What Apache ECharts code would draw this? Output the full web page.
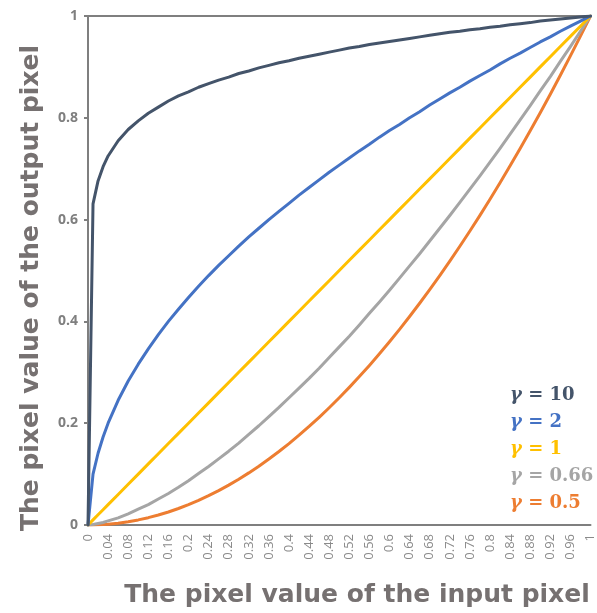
<!DOCTYPE html>
<html>
<head>
<meta charset="utf-8">
<script src="https://cdn.jsdelivr.net/npm/echarts@6/dist/echarts.min.js"></script>
<style>
  html, body { margin: 0; padding: 0; background: #fff; }
  #chart { width: 597px; height: 613px; }
</style>
</head>
<body>
<div id="chart"></div>
<script>
// Input pixel value (x) shared by every curve
const inputValues = [0, 0.01, 0.02, 0.03, 0.04, 0.06, 0.08, 0.10, 0.12, 0.14, 0.16, 0.18, 0.20, 0.22, 0.24, 0.26, 0.28, 0.30, 0.32, 0.34, 0.36, 0.38, 0.40, 0.42, 0.44, 0.46, 0.48, 0.50, 0.52, 0.54, 0.56, 0.58, 0.60, 0.62, 0.64, 0.66, 0.68, 0.70, 0.72, 0.74, 0.76, 0.78, 0.80, 0.82, 0.84, 0.86, 0.88, 0.90, 0.92, 0.94, 0.96, 0.98, 1];

// Output pixel value for each gamma
const gamma10 = [0, 0.631, 0.676, 0.704, 0.725, 0.755, 0.777, 0.794, 0.809, 0.821, 0.833, 0.843, 0.851, 0.860, 0.867, 0.874, 0.880, 0.887, 0.892, 0.898, 0.903, 0.908, 0.912, 0.917, 0.921, 0.925, 0.929, 0.933, 0.937, 0.940, 0.944, 0.947, 0.950, 0.953, 0.956, 0.959, 0.962, 0.965, 0.968, 0.970, 0.973, 0.975, 0.978, 0.980, 0.983, 0.985, 0.987, 0.990, 0.992, 0.994, 0.996, 0.998, 1];
const gamma2 = [0, 0.100, 0.141, 0.173, 0.200, 0.245, 0.283, 0.316, 0.346, 0.374, 0.400, 0.424, 0.447, 0.469, 0.490, 0.510, 0.529, 0.548, 0.566, 0.583, 0.600, 0.616, 0.632, 0.648, 0.663, 0.678, 0.693, 0.707, 0.721, 0.735, 0.748, 0.762, 0.775, 0.787, 0.800, 0.812, 0.825, 0.837, 0.849, 0.860, 0.872, 0.883, 0.894, 0.906, 0.917, 0.927, 0.938, 0.949, 0.959, 0.970, 0.980, 0.990, 1];
const gamma1 = [0, 0.01, 0.02, 0.03, 0.04, 0.06, 0.08, 0.10, 0.12, 0.14, 0.16, 0.18, 0.20, 0.22, 0.24, 0.26, 0.28, 0.30, 0.32, 0.34, 0.36, 0.38, 0.40, 0.42, 0.44, 0.46, 0.48, 0.50, 0.52, 0.54, 0.56, 0.58, 0.60, 0.62, 0.64, 0.66, 0.68, 0.70, 0.72, 0.74, 0.76, 0.78, 0.80, 0.82, 0.84, 0.86, 0.88, 0.90, 0.92, 0.94, 0.96, 0.98, 1];
const gamma066 = [0, 0.001, 0.003, 0.005, 0.008, 0.014, 0.022, 0.031, 0.040, 0.051, 0.062, 0.074, 0.087, 0.101, 0.115, 0.130, 0.145, 0.161, 0.178, 0.195, 0.213, 0.231, 0.250, 0.269, 0.288, 0.308, 0.329, 0.350, 0.371, 0.393, 0.416, 0.438, 0.461, 0.485, 0.509, 0.533, 0.558, 0.583, 0.608, 0.634, 0.660, 0.686, 0.713, 0.740, 0.768, 0.796, 0.824, 0.853, 0.881, 0.911, 0.940, 0.970, 1];
const gamma05 = [0, 0.0001, 0.0004, 0.0009, 0.0016, 0.0036, 0.0064, 0.010, 0.0144, 0.0196, 0.0256, 0.0324, 0.040, 0.0484, 0.0576, 0.0676, 0.0784, 0.090, 0.1024, 0.1156, 0.1296, 0.1444, 0.160, 0.1764, 0.1936, 0.2116, 0.2304, 0.250, 0.2704, 0.2916, 0.3136, 0.3364, 0.360, 0.3844, 0.4096, 0.4356, 0.4624, 0.490, 0.5184, 0.5476, 0.5776, 0.6084, 0.640, 0.6724, 0.7056, 0.7396, 0.7744, 0.810, 0.8464, 0.8836, 0.9216, 0.9604, 1];

const seriesNames = ['γ = 10', 'γ = 2', 'γ = 1', 'γ = 0.66', 'γ = 0.5'];
const seriesValues = [gamma10, gamma2, gamma1, gamma066, gamma05];
const seriesColors = ['#44546a', '#4472c4', '#ffc000', '#a5a5a5', '#ed7d31'];

const axisGray = '#7f7f7f';
const titleGray = '#767171';
const labelFont = '"Open Sans", "DejaVu Sans", sans-serif';
const titleFont = '"DejaVu Sans", sans-serif';

const chart = echarts.init(document.getElementById('chart'), null, { renderer: 'canvas' });

const series = seriesNames.map((name, i) => ({
  name: name,
  type: 'line',
  data: inputValues.map((x, j) => [x, seriesValues[i][j]]),
  showSymbol: false,
  lineStyle: { color: seriesColors[i], width: 3, cap: 'round', join: 'round' },
  itemStyle: { color: seriesColors[i] },
  z: 10 - i
}));

chart.setOption({
  animation: false,
  backgroundColor: '#fff',
  grid: { left: 88, right: 1, top: 16, bottom: 88, containLabel: false },
  legend: {
    orient: 'vertical',
    left: 500,
    top: 381,
    icon: 'none',
    itemWidth: 0,
    itemHeight: 14,
    itemGap: 8,
    selectedMode: false,
    formatter: name => '{g|γ}' + name.slice(1),
    textStyle: {
      fontSize: 18,
      fontWeight: 'bold',
      fontFamily: '"DejaVu Serif", serif',
      lineHeight: 19,
      rich: {
        g: { fontStyle: 'italic', fontFamily: '"DejaVu Serif", serif', fontSize: 18, fontWeight: 'bold' }
      }
    },
    data: seriesNames.map((n, i) => ({ name: n, textStyle: { color: seriesColors[i] } }))
  },
  xAxis: [
    {
      type: 'value',
      min: 0,
      max: 1,
      interval: 0.04,
      axisLine: { show: true, lineStyle: { color: axisGray, width: 2 } },
      axisTick: { show: false },
      splitLine: { show: false },
      axisLabel: {
        rotate: 90,
        color: '#8a8a8a',
        fontSize: 13,
        fontFamily: labelFont,
        margin: 9,
        showMaxLabel: true,
        formatter: v => String(Math.round(v * 100) / 100)
      }
    },
    {
      type: 'value',
      position: 'top',
      min: 0,
      max: 1,
      axisLine: { show: true, lineStyle: { color: axisGray, width: 2 } },
      axisTick: { show: false },
      axisLabel: { show: false },
      splitLine: { show: false }
    }
  ],
  yAxis: {
    type: 'value',
    min: 0,
    max: 1,
    interval: 0.2,
    axisLine: { show: true, lineStyle: { color: axisGray, width: 2 } },
    axisTick: { show: true, length: 4, lineStyle: { color: axisGray, width: 2 } },
    splitLine: { show: false },
    axisLabel: {
      color: axisGray,
      fontSize: 14,
      fontWeight: 'bold',
      fontFamily: labelFont,
      margin: 10,
      formatter: v => String(Math.round(v * 10) / 10)
    }
  },
  graphic: [
    {
      type: 'text',
      x: 31,
      y: 288,
      rotation: Math.PI / 2,
      style: {
        text: 'The pixel value of the output pixel',
        fill: titleGray,
        font: 'bold 25px ' + titleFont,
        textAlign: 'center',
        textVerticalAlign: 'middle'
      }
    },
    {
      type: 'text',
      x: 357,
      y: 595,
      style: {
        text: 'The pixel value of the input pixel',
        fill: titleGray,
        font: 'bold 25px ' + titleFont,
        textAlign: 'center',
        textVerticalAlign: 'middle'
      }
    }
  ],
  series: series
});
</script>
</body>
</html>
